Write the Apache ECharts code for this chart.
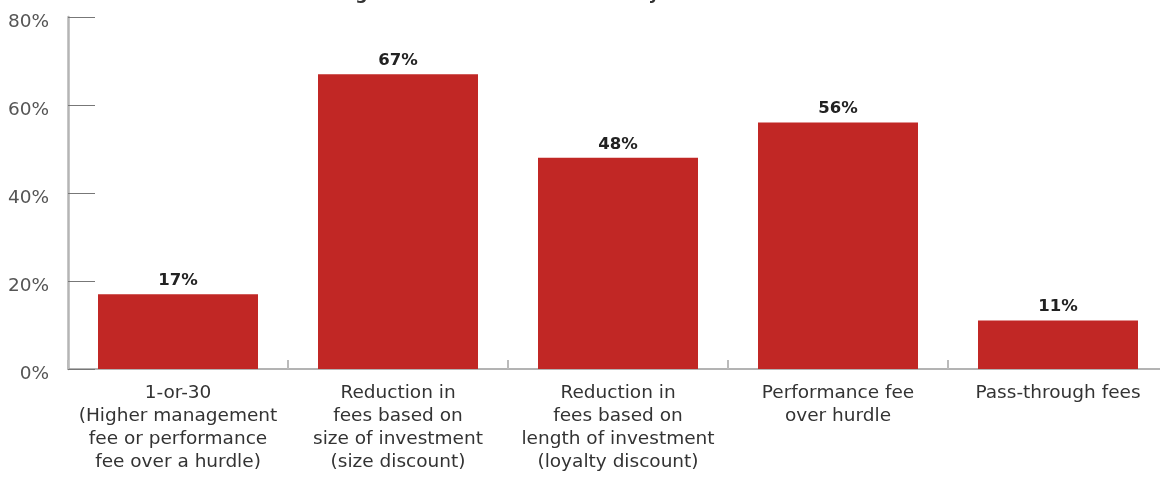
<!DOCTYPE html>
<html>
<head>
<meta charset="utf-8">
<script src="https://cdn.jsdelivr.net/npm/echarts@6/dist/echarts.min.js"></script>
<style>html,body{margin:0;padding:0;background:#fff;}#c{width:1160px;height:480px;}</style>
</head>
<body>
<div id="c"></div>
<script>
var titleText = 'Hedge fund fee structures used by investors in 2023:';
var categories = [
  '1-or-30\n(Higher management\nfee or performance\nfee over a hurdle)',
  'Reduction in\nfees based on\nsize of investment\n(size discount)',
  'Reduction in\nfees based on\nlength of investment\n(loyalty discount)',
  'Performance fee\nover hurdle',
  'Pass-through fees'
];
var values = [17, 67, 48, 56, 11];
var yTicks = [0, 20, 40, 60, 80];

var chart = echarts.init(document.getElementById('c'), null, {renderer: 'canvas'});
chart.setOption({
  animation: false,
  backgroundColor: '#ffffff',
  graphic: [{
    type: 'text',
    left: 'center',
    y: -15,
    style: {
      text: titleText,
      font: 'bold 17.5px "DejaVu Sans"',
      fill: '#333',
      textVerticalAlign: 'top'
    }
  }],
  grid: {left: 68, top: 17, right: -8, bottom: 111, containLabel: false, outerBoundsMode: 'none'},
  xAxis: {
    type: 'category',
    data: categories,
    axisLine: {show: true, lineStyle: {color: '#9a9a9a', width: 1.5}},
    axisTick: {show: true, inside: true, length: 9, alignWithLabel: false, lineStyle: {color: '#bbbbbb', width: 2}},
    axisLabel: {
      interval: 0,
      margin: 13,
      fontFamily: 'DejaVu Sans',
      fontSize: 18.5,
      lineHeight: 23,
      color: '#333',
      align: 'center'
    }
  },
  yAxis: {
    type: 'value',
    min: yTicks[0],
    max: yTicks[yTicks.length - 1],
    interval: 20,
    axisLine: {show: true, lineStyle: {color: '#b5b5b5', width: 2.5}},
    axisTick: {show: true, inside: true, length: 27, lineStyle: {color: '#777', width: 1}},
    splitLine: {show: false},
    axisLabel: {
      formatter: function (v) { return v + '%'; },
      fontFamily: 'DejaVu Sans',
      fontSize: 18.5,
      color: '#555',
      margin: 19,
      verticalAlign: 'top',
      lineHeight: 10
    }
  },
  series: [{
    type: 'bar',
    data: values,
    barWidth: 160,
    itemStyle: {color: '#c12725'},
    label: {
      show: true,
      position: 'top',
      distance: 5,
      formatter: function (p) { return p.value + '%'; },
      fontFamily: 'DejaVu Sans',
      fontSize: 16.5,
      fontWeight: 'bold',
      color: '#222'
    }
  }]
});
</script>
</body>
</html>
